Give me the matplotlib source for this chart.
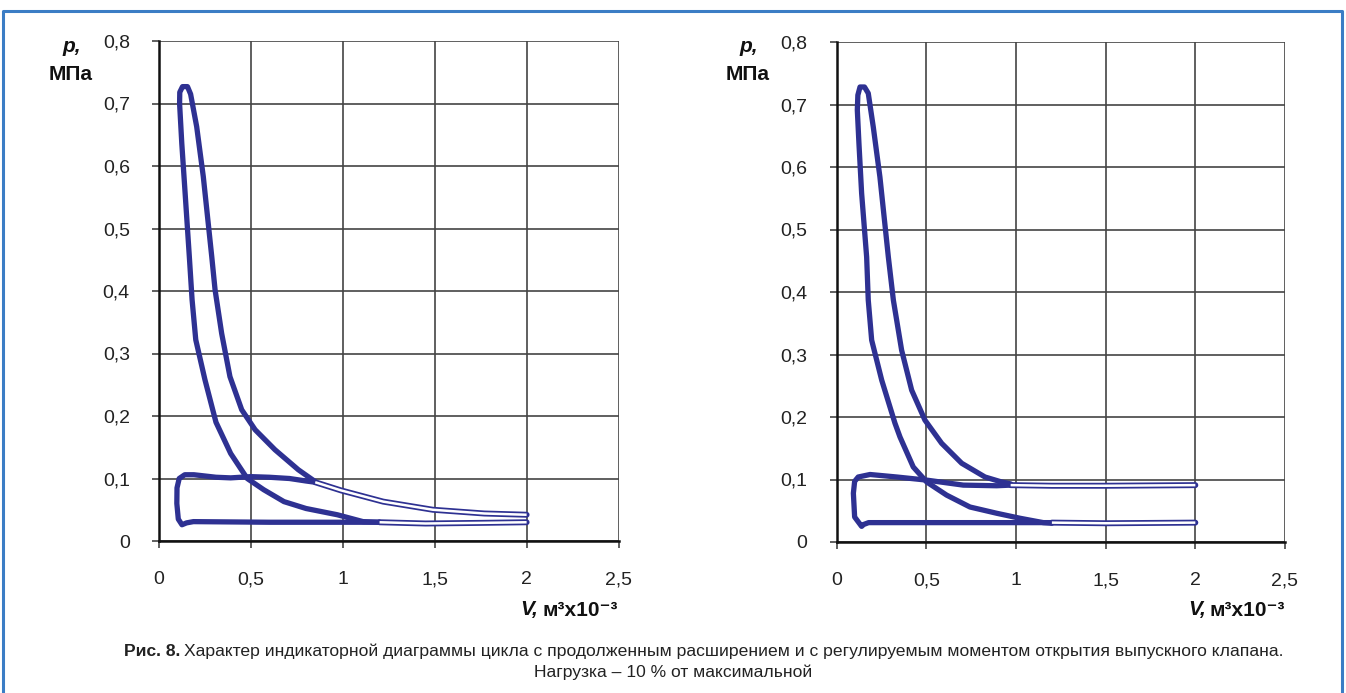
import numpy as np
import matplotlib
matplotlib.use("Agg")
import matplotlib.pyplot as plt
from matplotlib.lines import Line2D

plt.rcParams['font.family'] = ['Liberation Sans', 'DejaVu Sans']

# left panel: high pressure loop (inner branch up, cap, outer branch down)
left_hp_V = [1.2, 1.11, 0.97, 0.80, 0.68, 0.57, 0.48, 0.39, 0.31, 0.25, 0.20, 0.18, 0.165,
             0.142, 0.124, 0.112, 0.113, 0.128, 0.155, 0.172, 0.205, 0.241, 0.287, 0.305,
             0.341, 0.386, 0.45, 0.523, 0.631, 0.758, 0.85]
left_hp_p = [0.030, 0.031, 0.042, 0.052, 0.063, 0.082, 0.100, 0.140, 0.190, 0.258, 0.322,
             0.386, 0.455, 0.557, 0.636, 0.700, 0.718, 0.727, 0.727, 0.715, 0.663, 0.583,
             0.455, 0.402, 0.332, 0.263, 0.210, 0.178, 0.146, 0.114, 0.095]
left_low_V = [1.2, 0.6, 0.187, 0.15, 0.125, 0.105, 0.097, 0.098, 0.11, 0.14, 0.19, 0.25,
              0.31, 0.39, 0.5, 0.6, 0.71, 0.8, 0.85]
left_low_p = [0.030, 0.030, 0.031, 0.029, 0.026, 0.035, 0.060, 0.085, 0.100, 0.106, 0.106,
              0.104, 0.102, 0.101, 0.103, 0.102, 0.100, 0.096, 0.094]
left_exp_tail_V = [0.85, 0.99, 1.22, 1.49, 1.77, 2.0]
left_exp_tail_p = [0.094, 0.081, 0.063, 0.050, 0.044, 0.042]
left_exh_tail_V = [1.2, 1.45, 1.75, 2.0]
left_exh_tail_p = [0.030, 0.028, 0.029, 0.030]

# right panel
right_hp_V = [1.2, 1.152, 1.022, 0.892, 0.743, 0.613, 0.502, 0.427, 0.353, 0.325, 0.251,
              0.195, 0.176, 0.167, 0.139, 0.124, 0.115, 0.118, 0.13, 0.155, 0.176, 0.204,
              0.241, 0.288, 0.316, 0.362, 0.418, 0.492, 0.585, 0.697, 0.827, 0.92, 0.97]
right_hp_p = [0.030, 0.031, 0.038, 0.046, 0.056, 0.075, 0.096, 0.120, 0.168, 0.190, 0.259,
              0.323, 0.387, 0.456, 0.558, 0.638, 0.691, 0.715, 0.728, 0.728, 0.718, 0.664,
              0.584, 0.456, 0.387, 0.307, 0.243, 0.195, 0.158, 0.126, 0.104, 0.096, 0.093]
right_low_V = [1.2, 0.6, 0.178, 0.15, 0.139, 0.10, 0.093, 0.10, 0.12, 0.186, 0.335, 0.502,
               0.706, 0.892, 0.97]
right_low_p = [0.031, 0.031, 0.031, 0.028, 0.025, 0.040, 0.078, 0.097, 0.104, 0.108, 0.104,
               0.099, 0.091, 0.090, 0.091]
right_exp_tail_V = [0.97, 1.2, 1.5, 2.0]
right_exp_tail_p = [0.091, 0.090, 0.090, 0.091]
right_exh_tail_V = [1.2, 1.5, 2.0]
right_exh_tail_p = [0.031, 0.030, 0.031]

x_ticks = [0, 0.5, 1, 1.5, 2, 2.5]
x_labels = ['0', '0,5', '1', '1,5', '2', '2,5']
y_ticks = [0, 0.1, 0.2, 0.3, 0.4, 0.5, 0.6, 0.7, 0.8]
y_labels = ['0', '0,1', '0,2', '0,3', '0,4', '0,5', '0,6', '0,7', '0,8']

blue = '#2e3192'

fig = plt.figure(figsize=(13.46, 6.93), dpi=100)
W, H = 1346, 693
rend = fig.canvas.get_renderer()


def panel(rect, hp, low, tails):
    ax = fig.add_axes(rect)
    ax.set_xlim(0, 2.5)
    ax.set_ylim(0, 0.8)
    ax.set_xticks(x_ticks)
    ax.set_xticklabels(x_labels)
    ax.set_yticks(y_ticks)
    ax.set_yticklabels(y_labels)
    ax.grid(True, color='#444444', lw=1.2)
    ax.set_axisbelow(True)
    for s in ['top', 'right']:
        ax.spines[s].set_visible(False)
    for s in ['left', 'bottom']:
        ax.spines[s].set_linewidth(1.8)
        ax.spines[s].set_color('#111111')
    ax.tick_params(direction='out', length=5, width=1.2, color='#444444',
                   labelsize=14, labelcolor='#222222', pad=16)
    ax.tick_params(axis='x', pad=26)
    for lab in ax.get_xticklabels():
        lab.set_va('baseline')
    for V, p in [low, hp]:
        ax.plot(V, p, color=blue, lw=3.8, solid_joinstyle='round', solid_capstyle='round')
    for V, p in tails:
        ax.plot(V, p, color=blue, lw=4.3, solid_joinstyle='round', solid_capstyle='round')
        ax.plot(V, p, color='white', lw=1.8, solid_capstyle='butt')
    return ax


panel([159 / W, 152 / H, 459.5 / W, 500 / H],
      (left_hp_V, left_hp_p), (left_low_V, left_low_p),
      [(left_exp_tail_V, left_exp_tail_p), (left_exh_tail_V, left_exh_tail_p)])
panel([836.7 / W, 151 / H, 448.3 / W, 500 / H],
      (right_hp_V, right_hp_p), (right_low_V, right_low_p),
      [(right_exp_tail_V, right_exp_tail_p), (right_exh_tail_V, right_exh_tail_p)])

# axis titles
for xr, xv in [(81, 618), (758, 1285)]:
    fig.text(xr / W, 1 - 46 / H, 'p,', ha='right', va='center', fontsize=15,
             fontweight='bold', fontstyle='italic', color='#111111')
    fig.text((xr + 12) / W, 1 - 75 / H, 'МПа', ha='right', va='center', fontsize=15,
             fontweight='bold', color='#111111')
    t = fig.text(xv / W, 1 - 610 / H, 'м³x10⁻³', ha='right', va='center', fontsize=15,
                 fontweight='bold', color='#111111')
    x0 = t.get_window_extent(rend).x0
    fig.text((x0 - 4) / W, 1 - 610 / H, 'V,', ha='right', va='center', fontsize=15,
             fontweight='bold', fontstyle='italic', color='#111111')

# caption
fs = 12.6
t = fig.text(124 / W, 1 - 651 / H, 'Рис. 8.', ha='left', va='center', fontsize=fs,
             fontweight='bold', color='#222222')
x1 = t.get_window_extent(rend).x1
fig.text((x1 + 4) / W, 1 - 651 / H,
         'Характер индикаторной диаграммы цикла с продолженным расширением и с '
         'регулируемым моментом открытия выпускного клапана.',
         ha='left', va='center', fontsize=fs, color='#222222')
fig.text(673 / W, 1 - 672 / H, 'Нагрузка – 10 % от максимальной', ha='center',
         va='center', fontsize=fs, color='#222222')

# frame
bc = '#3b7dc5'
fig.add_artist(Line2D([3 / W, 3 / W, 1342 / W, 1342 / W], [0, 1 - 11 / H, 1 - 11 / H, 0],
                      color=bc, lw=2.2, transform=fig.transFigure))

fig.savefig('out.png', dpi=100)
